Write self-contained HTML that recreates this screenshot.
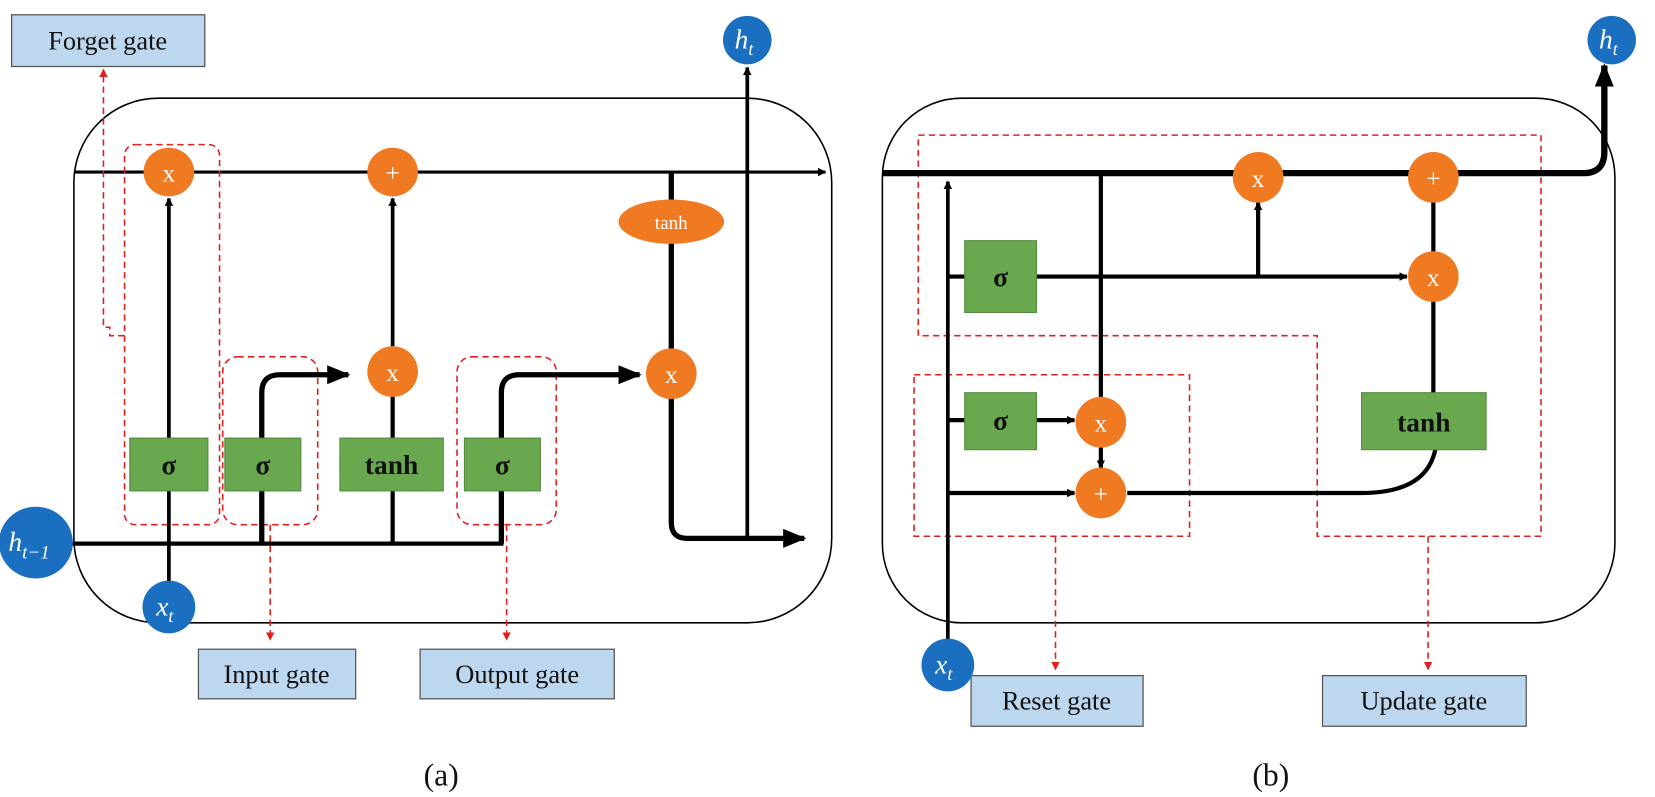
<!DOCTYPE html>
<html><head><meta charset="utf-8"><style>
html,body{margin:0;padding:0;background:#fff;}
svg{display:block;}
text{font-family:"Liberation Serif",serif;}
</style></head><body>
<svg width="1655" height="797" viewBox="0 0 1568 755" preserveAspectRatio="none" xmlns="http://www.w3.org/2000/svg">
<defs>
<marker id="ab" markerWidth="8" markerHeight="8" refX="7" refY="4" orient="auto" markerUnits="userSpaceOnUse"><path d="M0,0 L8,4 L0,8 Z" fill="#000"/></marker>
<marker id="abig" markerWidth="22" markerHeight="18" refX="20" refY="9" orient="auto" markerUnits="userSpaceOnUse"><path d="M0,0 L22,9 L0,18 Z" fill="#000"/></marker>
<marker id="ar" markerWidth="8" markerHeight="8" refX="7" refY="4" orient="auto" markerUnits="userSpaceOnUse"><path d="M0,0 L8,4 L0,8 Z" fill="#e02020"/></marker>
</defs>

<!-- ===== (a) LSTM ===== -->
<rect x="70" y="93" width="718" height="497" rx="80" fill="none" stroke="#000" stroke-width="1.5"/>
<line x1="70" y1="163" x2="782" y2="163" stroke="#000" stroke-width="3" marker-end="url(#ab)"/>
<g fill="none" stroke="#e02020" stroke-width="1.5" stroke-dasharray="6,4">
<rect x="118" y="137" width="90" height="360" rx="10"/>
<rect x="211" y="338" width="90" height="159" rx="14"/>
<rect x="433" y="338" width="94" height="159" rx="14"/>
<polyline points="118,318 104,318 104,310 98,310 98,66" marker-end="url(#ar)"/>
<line x1="256" y1="497" x2="256" y2="606" marker-end="url(#ar)"/>
<line x1="480" y1="497" x2="480" y2="606" marker-end="url(#ar)"/>
</g>
<g fill="none" stroke="#000" stroke-width="4">
<line x1="68" y1="515" x2="477" y2="515"/>
<line x1="160" y1="560" x2="160" y2="188" stroke-width="3.5" marker-end="url(#ab)"/>
<path d="M248,515 L248,372 Q248,355 265,355 L330,355" marker-end="url(#abig)" stroke-width="5"/>
<path d="M475,515 L475,372 Q475,355 492,355 L606,355" marker-end="url(#abig)" stroke-width="5"/>
<line x1="372" y1="515" x2="372" y2="374"/>
<line x1="372" y1="328" x2="372" y2="188" stroke-width="3.5" marker-end="url(#ab)"/>
<path d="M636,163 L636,495 Q636,510 651,510 L762,510" stroke-width="5" marker-end="url(#abig)"/>
<line x1="708" y1="510" x2="708" y2="64" stroke-width="3.5" marker-end="url(#ab)"/>
</g>
<g fill="#6aa84f" stroke="#4f8a3a" stroke-width="1">
<rect x="123" y="415" width="74" height="50"/>
<rect x="213" y="415" width="72" height="50"/>
<rect x="322" y="415" width="98" height="50"/>
<rect x="440" y="415" width="72" height="50"/>
</g>
<g font-size="26" font-weight="bold" fill="#111" text-anchor="middle">
<text x="160" y="449">σ</text><text x="249" y="449">σ</text>
<text x="371" y="449">tanh</text><text x="476" y="449">σ</text>
</g>
<g fill="#f07a22">
<ellipse cx="160" cy="163" rx="24" ry="23"/>
<ellipse cx="372" cy="163" rx="24" ry="23"/>
<ellipse cx="636" cy="210" rx="50" ry="21"/>
<ellipse cx="372" cy="352" rx="24" ry="24"/>
<ellipse cx="636" cy="354" rx="24" ry="24"/>
</g>
<g fill="#fff" text-anchor="middle" font-size="24">
<text x="160" y="172">x</text><text x="372" y="172">+</text>
<text x="636" y="217" font-size="18">tanh</text>
<text x="372" y="361">x</text><text x="636" y="363">x</text>
</g>
<g fill="#1a6fc0">
<circle cx="708" cy="38" r="23"/>
<ellipse cx="34" cy="514" rx="35" ry="34"/>
<circle cx="160" cy="575" r="25"/>
</g>
<g fill="#fff" font-style="italic" font-size="26">
<text x="696" y="46">h<tspan font-size="17" dy="6">t</tspan></text>
<text x="8" y="522">h<tspan font-size="18" dy="7">t−1</tspan></text>
<text x="148" y="583">x<tspan font-size="17" dy="6">t</tspan></text>
</g>
<g fill="#bdd7ee" stroke="#555" stroke-width="1.2">
<rect x="11" y="14" width="183" height="49"/>
<rect x="188" y="615" width="149" height="47"/>
<rect x="398" y="615" width="184" height="47"/>
<rect x="920" y="640" width="163" height="48"/>
<rect x="1253" y="640" width="193" height="48"/>
</g>
<g font-size="25" fill="#111" text-anchor="middle">
<text x="102" y="47">Forget gate</text>
<text x="262" y="647">Input gate</text>
<text x="490" y="647">Output gate</text>
<text x="1001" y="672">Reset gate</text>
<text x="1349" y="672">Update gate</text>
<text x="418" y="744" font-size="30">(a)</text>
<text x="1204" y="744" font-size="30">(b)</text>
</g>

<!-- ===== (b) GRU ===== -->
<rect x="836" y="93" width="694" height="497" rx="75" fill="none" stroke="#000" stroke-width="1.5"/>
<g fill="none" stroke="#e02020" stroke-width="1.5" stroke-dasharray="6,4">
<polygon points="870,128 1460,128 1460,508 1248,508 1248,318 870,318"/>
<rect x="866" y="355" width="261" height="153"/>
<line x1="1000" y1="508" x2="1000" y2="634" marker-end="url(#ar)"/>
<line x1="1353" y1="508" x2="1353" y2="634" marker-end="url(#ar)"/>
</g>
<g fill="none" stroke="#000" stroke-width="4">
<path d="M836,164 L1500,164 Q1520,164 1520,144 L1520,62" stroke-width="6" marker-end="url(#abig)"/>
<line x1="898" y1="615" x2="898" y2="172" stroke-width="3.5" marker-end="url(#ab)"/>
<line x1="898" y1="262" x2="914" y2="262"/>
<line x1="982" y1="262" x2="1333" y2="262" marker-end="url(#ab)"/>
<line x1="1192" y1="262" x2="1192" y2="192" marker-end="url(#ab)"/>
<line x1="1043" y1="164" x2="1043" y2="376"/>
<line x1="898" y1="398" x2="914" y2="398"/>
<line x1="982" y1="398" x2="1018" y2="398" marker-end="url(#ab)"/>
<line x1="1043" y1="424" x2="1043" y2="443" marker-end="url(#ab)"/>
<line x1="898" y1="467" x2="1018" y2="467" marker-end="url(#ab)"/>
<path d="M1068,467 L1290,467 Q1352,467 1360,425"/>
<line x1="1358" y1="164" x2="1358" y2="373"/>
</g>
<g fill="#6aa84f" stroke="#4f8a3a" stroke-width="1">
<rect x="914" y="228" width="68" height="68"/>
<rect x="914" y="372" width="68" height="54"/>
<rect x="1290" y="372" width="118" height="54"/>
</g>
<g font-size="26" font-weight="bold" fill="#111" text-anchor="middle">
<text x="948" y="271">σ</text><text x="948" y="407">σ</text><text x="1349" y="409">tanh</text>
</g>
<g fill="#f07a22">
<ellipse cx="1192" cy="168" rx="24" ry="24"/>
<ellipse cx="1358" cy="168" rx="24" ry="24"/>
<ellipse cx="1358" cy="262" rx="24" ry="24"/>
<ellipse cx="1043" cy="400" rx="24" ry="24"/>
<ellipse cx="1043" cy="467" rx="24" ry="24"/>
</g>
<g fill="#fff" text-anchor="middle" font-size="24">
<text x="1192" y="177">x</text><text x="1358" y="177">+</text>
<text x="1358" y="271">x</text><text x="1043" y="409">x</text><text x="1043" y="476">+</text>
</g>
<g fill="#1a6fc0">
<circle cx="1527" cy="38" r="23"/>
<circle cx="898" cy="630" r="25"/>
</g>
<g fill="#fff" font-style="italic" font-size="26">
<text x="1515" y="46">h<tspan font-size="17" dy="6">t</tspan></text>
<text x="886" y="638">x<tspan font-size="17" dy="6">t</tspan></text>
</g>
</svg>
</body></html>
